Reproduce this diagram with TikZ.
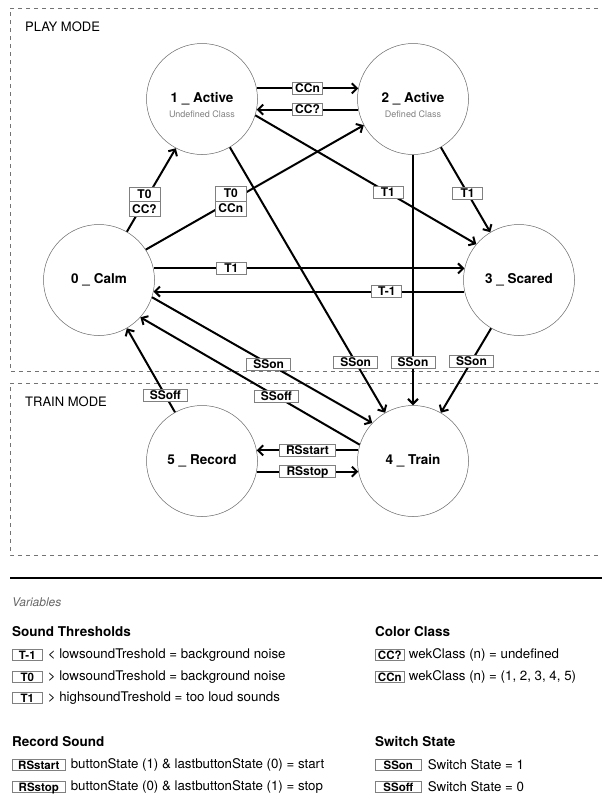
\documentclass[tikz,border=0pt]{standalone}
\usepackage{fontspec}
\setmainfont{TeX Gyre Heros}
\usetikzlibrary{arrows.meta, positioning, shapes.multipart}

\tikzset{
  state/.style={circle, draw=gray!80!black, line width=0.5pt, minimum size=111pt, inner sep=0pt,
    font=\fontsize{13.5}{16}\selectfont\bfseries},
  sub/.style={font=\fontsize{9}{10}\selectfont, text=gray},
  lbl/.style={draw=gray, line width=0.6pt, fill=white, minimum width=#1, inner xsep=0pt, inner ysep=1.7pt,
    text height=8.6pt, text depth=0pt, font=\fontsize{12}{12}\selectfont\bfseries},
  lbl/.default=30pt,
  lbltwo/.style={lbl, rectangle split, rectangle split parts=2, minimum width=31pt, inner ysep=2.7pt},
  frame/.style={draw=gray!90!black, line width=0.7pt, dash pattern=on 4pt off 4pt},
  mode/.style={anchor=west, inner sep=0pt, font=\fontsize{13}{15}\selectfont},
  head/.style={anchor=west, inner sep=0pt, font=\fontsize{13.5}{16}\selectfont\bfseries},
  key/.style={draw=gray, line width=0.6pt, fill=white, anchor=west, minimum width=#1, inner xsep=0pt,
    inner ysep=1.6pt, text height=8.3pt, text depth=0pt, font=\fontsize{11.5}{12}\selectfont\bfseries},
  key/.default=30pt,
  desc/.style={inner sep=0pt, font=\fontsize{13.3}{15}\selectfont}
}

\begin{document}
\begin{tikzpicture}[x=1pt, y=-1pt]
\useasboundingbox (0,0) rectangle (602,796);

% the two modes
\draw[frame] (606,8) -- (10,8) -- (10,371) -- (606,371);
\draw[frame] (606,383) -- (10,383) -- (10,555) -- (606,555);
\node (playmode) at (25,27) [mode] {PLAY MODE};
\node (trainmode) at (25,402) [mode] {TRAIN MODE};

% states
\node (calm) at (99,280) [state] {0 \_ Calm};
\node (undef) at (202,99) [state, label={[sub, yshift=-15pt]center:Undefined Class}] {1 \_ Active};
\node (defined) at (413,99) [state, label={[sub, yshift=-15pt]center:Defined Class}] {2 \_ Active};
\node (scared) at (519,280) [state] {3 \_ Scared};
\node (train) at (413,461) [state] {4 \_ Train};
\node (record) at (202,461) [state] {5 \_ Record};

\begin{scope}[>={Straight Barb[length=5pt,width=10pt]},
              every edge/.style={draw, line width=2pt}]
    \path [->] (undef.11) edge node[lbl] {CCn} (defined.169);
    \path [->] (defined.-169) edge node[lbl] {CC?} (undef.-11);

    \path [->] (calm.60) edge node[lbltwo, pos=0.36] {T0\nodepart{two}CC?} (undef.242);
    \path [->] (calm.33) edge node[lbltwo, pos=0.39] {T0\nodepart{two}CCn} (defined.208);
    \path [->] (undef.-17) edge node[lbl, pos=0.6] {T1} (scared.140);
    \path [->] (defined.-60) edge node[lbl, pos=0.54] {T1} (scared.121);

    \path [->] (calm.12) edge node[lbl, pos=0.25] {T1} (scared.168);
    \path [->] (scared.-168) edge node[lbl, pos=0.25] {T-1} (calm.-12);

    \path [->] (calm.-18) edge node[lbl=44pt, pos=0.53] {SSon} (train.137);
    \path [->] (undef.-60) edge node[lbl=44pt, pos=0.81] {SSon} (train.120);
    \path [->] (defined.-90) edge node[lbl=44pt, pos=0.83] {SSon} (train.90);
    \path [->] (scared.240) edge node[lbl=44pt, pos=0.39] {SSon} (train.60);

    \path [->] (train.163) edge node[lbl=44pt, pos=0.38] {SSoff} (calm.-42);
    \path [->] (record.119) edge node[lbl=44pt, pos=0.2] {SSoff} (calm.-60);

    \path [->] (train.169) edge node[lbl=56pt] {RSstart} (record.11);
    \path [->] (record.-11) edge node[lbl=56pt] {RSstop} (train.-169);
\end{scope}

% variables
\draw[line width=1.6pt] (10,578) -- (606,578);
\node (vars) at (12,602) [anchor=west, inner sep=0pt, text=gray!80!black,
    font=\fontsize{12}{14}\selectfont\itshape] {Variables};

\node (sound) at (12,632) [head] {Sound Thresholds};
\node (km1) at (12,655) [key] {T-1};
\node (dm1) [desc, right=5pt of km1] {< lowsoundTreshold = background noise};
\node (kz) at (12,677) [key] {T0};
\node (dz) [desc, right=5pt of kz] {> lowsoundTreshold = background noise};
\node (ko) at (12,698) [key] {T1};
\node (do) [desc, right=5pt of ko] {> highsoundTreshold = too loud sounds};

\node (recsound) at (12,742) [head] {Record Sound};
\node (kstart) at (12,765) [key=53pt] {RSstart};
\node (dstart) [desc, right=5pt of kstart] {buttonState (1) \& lastbuttonState (0) = start};
\node (kstop) at (12,787) [key=53pt] {RSstop};
\node (dstop) [desc, right=5pt of kstop] {buttonState (0) \& lastbuttonState (1) = stop};

\node (colclass) at (375,632) [head] {Color Class};
\node (kccq) at (375,655) [key=29pt] {CC?};
\node (dccq) [desc, right=4pt of kccq] {wekClass (n) = undefined};
\node (kccn) at (375,677) [key=29pt] {CCn};
\node (dccn) [desc, right=4pt of kccn] {wekClass (n) = (1, 2, 3, 4, 5)};

\node (switch) at (375,742) [head] {Switch State};
\node (kon) at (375,765) [key=46pt] {SSon};
\node (don) [desc, right=6pt of kon] {Switch State = 1};
\node (koff) at (375,787) [key=46pt] {SSoff};
\node (doff) [desc, right=6pt of koff] {Switch State = 0};
\end{tikzpicture}
\end{document}
